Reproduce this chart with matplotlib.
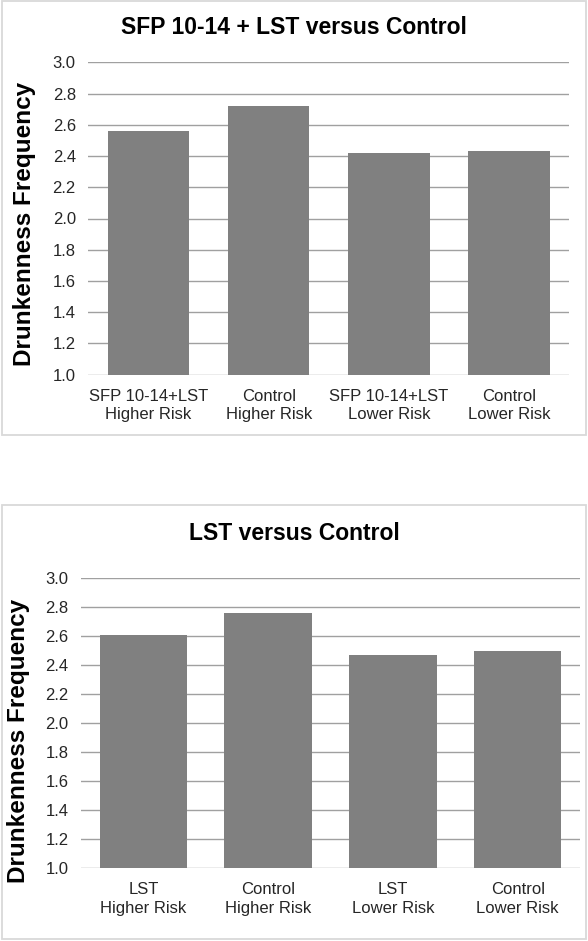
import matplotlib
matplotlib.use("Agg")
import matplotlib.pyplot as plt
from matplotlib.patches import Rectangle

plt.rcParams['font.family'] = ['Liberation Sans', 'DejaVu Sans']

top_title = "SFP 10-14 + LST versus Control"
top_categories = ["SFP 10-14+LST\nHigher Risk", "Control\nHigher Risk",
                  "SFP 10-14+LST\nLower Risk", "Control\nLower Risk"]
top_values = [2.56, 2.72, 2.42, 2.43]

bottom_title = "LST versus Control"
bottom_categories = ["LST\nHigher Risk", "Control\nHigher Risk",
                     "LST\nLower Risk", "Control\nLower Risk"]
bottom_values = [2.61, 2.76, 2.47, 2.50]

y_label = "Drunkenness Frequency"
y_ticks = [1.0, 1.2, 1.4, 1.6, 1.8, 2.0, 2.2, 2.4, 2.6, 2.8, 3.0]

W, H = 588, 941
fig = plt.figure(figsize=(W / 100, H / 100), dpi=100)
fig.patch.set_facecolor('white')

BAR = '#808080'
GRID = '#a0a0a0'
TXT = '#262626'


def fx(px):
    return px / W


def fy(py):
    return 1 - py / H


def panel(box, ax_box, title, title_y, cats, vals, width, ylab_x, ylab_y):
    x0, y0, x1, y1 = box
    fig.add_artist(Rectangle((fx(x0), fy(y1)), fx(x1) - fx(x0), fy(y0) - fy(y1),
                             transform=fig.transFigure, fill=False,
                             edgecolor='#d9d9d9', linewidth=1.3))
    l, t, r, b = ax_box
    ax = fig.add_axes([fx(l), fy(b), fx(r) - fx(l), fy(t) - fy(b)])
    xs = list(range(len(cats)))
    ax.bar(xs, [v - 1.0 for v in vals], bottom=1.0, width=width, color=BAR, zorder=3)
    ax.set_xlim(-0.5, len(cats) - 0.5)
    ax.set_ylim(1.0, 3.0)
    ax.set_yticks(y_ticks)
    ax.set_yticklabels([f"{v:.1f}" for v in y_ticks], fontsize=12, color=TXT)
    ax.set_xticks(xs)
    ax.set_xticklabels(cats, fontsize=12, color=TXT, linespacing=1.3)
    ax.tick_params(axis='both', length=0)
    ax.tick_params(axis='y', pad=9)
    ax.tick_params(axis='x', pad=10)
    for s in ax.spines.values():
        s.set_visible(False)
    ax.yaxis.grid(True, color=GRID, linewidth=1.0, zorder=0)
    ax.set_axisbelow(True)
    fig.text(fx((x0 + x1) / 2), fy(title_y), title, ha='center', va='center',
             fontsize=16.5, fontweight='bold', color='black')
    fig.text(fx(ylab_x), fy(ylab_y), y_label, ha='center', va='center',
             rotation=90, fontsize=17.5, fontweight='bold', color='black')
    return ax


panel((2, 1, 586, 435), (88.3, 62.3, 569.3, 374.7), top_title, 28,
      top_categories, top_values, 0.678, 25, 224)
panel((2, 505, 586, 939), (81, 578.3, 580, 868.3), bottom_title, 533,
      bottom_categories, bottom_values, 0.70, 19, 741)

fig.savefig("out.png", dpi=100, facecolor='white')
